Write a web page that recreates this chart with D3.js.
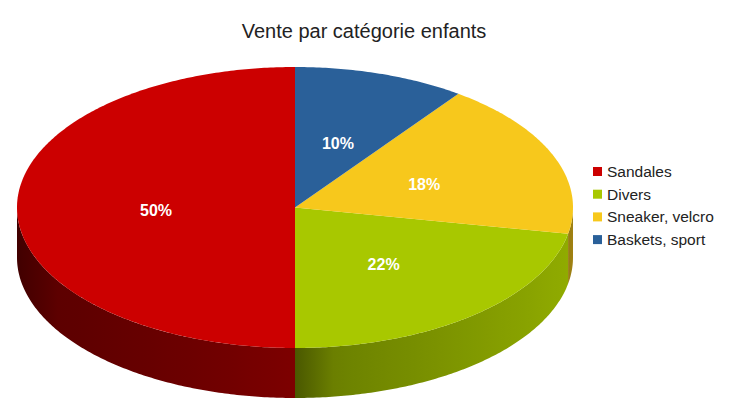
<!DOCTYPE html>
<html>
<head>
<meta charset="utf-8">
<script src="https://cdn.jsdelivr.net/npm/d3@7"></script>
<style>
body { margin: 0; background: #fff; }
svg { display: block; font-family: "Liberation Sans", Arial, sans-serif; }
</style>
</head>
<body>
<svg width="730" height="410"></svg>
<script>
// data, legend order
var categories = ["Sandales", "Divers", "Sneaker, velcro", "Baskets, sport"];
var values = [50, 22, 18, 10];
var labels = ["50%", "22%", "18%", "10%"];
var colors = ["#cc0000", "#a8c800", "#f7c81c", "#2a6099"];

var svg = d3.select("svg");
var cx = 295, cy = 207.5, rx = 278, ry = 140.5, depth = 50;

// unit circle -> screen
var x = d3.scaleLinear().domain([-1, 1]).range([cx - rx, cx + rx]);
var y = d3.scaleLinear().domain([-1, 1]).range([cy + ry, cy - ry]);

function pt(a, r, dz) {
  return [x(r * Math.sin(a)), y(r * Math.cos(a)) + (dz || 0)];
}

// counter-clockwise from 12 o'clock
var arcs = d3.pie().sort(null).startAngle(2 * Math.PI).endAngle(0)(values);

var defs = svg.append("defs");
var sides = svg.append("g"), tops = svg.append("g"), texts = svg.append("g");

function shade(a) {
  return 0.44 + 0.42 * Math.pow((Math.sin(a) + 1) / 2, 1.3);
}

arcs.forEach(function(d, i) {
  var a0 = Math.min(d.startAngle, d.endAngle), a1 = Math.max(d.startAngle, d.endAngle);
  var n = Math.max(4, Math.ceil((a1 - a0) * 90));

  // side (front half only)
  var lo = Math.max(a0, Math.PI / 2), hi = Math.min(a1, 3 * Math.PI / 2);
  if (hi > lo) {
    var m = Math.max(4, Math.ceil((hi - lo) * 90));
    var top = d3.range(m + 1).map(function(k) { return pt(lo + (hi - lo) * k / m, 1, 0); });
    var bot = top.slice().reverse().map(function(p) { return [p[0], p[1] + depth]; });
    var xl = x(Math.sin(hi)), xr = x(Math.sin(lo));
    var g = defs.append("linearGradient").attr("id", "side" + i)
      .attr("gradientUnits", "userSpaceOnUse")
      .attr("x1", xl).attr("x2", xr).attr("y1", 0).attr("y2", 0);
    var base = d3.rgb(colors[i]);
    d3.range(21).forEach(function(k) {
      var a = hi - (hi - lo) * k / 20;
      var px = x(Math.sin(a));
      var f = shade(a);
      // darker band at the slice's left seam
      var dist = px - xl;
      f *= 0.72 + 0.28 * Math.min(1, dist / 40);
      g.append("stop")
        .attr("offset", (px - xl) / (xr - xl))
        .attr("stop-color", d3.rgb(base.r * f, base.g * f, base.b * f));
    });
    sides.append("path")
      .attr("d", d3.line()(top.concat(bot)) + "Z")
      .attr("fill", "url(#side" + i + ")");
  }

  // top face
  var pts = [[cx, cy]].concat(d3.range(n + 1).map(function(k) { return pt(a0 + (a1 - a0) * k / n, 1, 0); }));
  tops.append("path")
    .attr("d", d3.line()(pts) + "Z")
    .attr("fill", colors[i]);

  var lp = pt((a0 + a1) / 2, 0.5, 3);
  texts.append("text")
    .attr("x", lp[0]).attr("y", lp[1])
    .attr("dy", "0.35em")
    .attr("text-anchor", "middle")
    .attr("fill", "#fff")
    .style("font-weight", "bold")
    .style("font-size", "16px")
    .text(labels[i]);
});

svg.append("text")
  .attr("x", 364).attr("y", 38)
  .attr("text-anchor", "middle")
  .attr("fill", "#222")
  .style("font-size", "20px")
  .text("Vente par catégorie enfants");

var legend = svg.append("g").attr("transform", "translate(593,171.5)");
var row = legend.selectAll("g").data(categories).enter().append("g")
  .attr("transform", function(d, i) { return "translate(0," + (i * 22.7) + ")"; });
row.append("rect")
  .attr("x", 0).attr("y", -4.5).attr("width", 9).attr("height", 9)
  .attr("fill", function(d, i) { return colors[i]; });
row.append("text")
  .attr("x", 14).attr("dy", "0.35em")
  .attr("fill", "#222")
  .style("font-size", "15.5px")
  .text(function(d) { return d; });
</script>
</body>
</html>
